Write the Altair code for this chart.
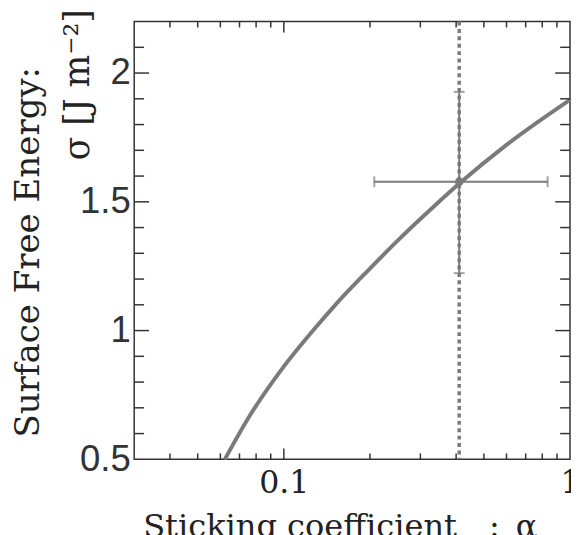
import altair as alt
import pandas as pd

# ---- data ----
curve_alpha = [0.0622, 0.0759, 0.099, 0.1289, 0.1511, 0.1968, 0.2566, 0.3343, 0.4076, 0.5983, 1.0]
curve_sigma = [0.5, 0.668, 0.854, 1.011, 1.099, 1.233, 1.362, 1.482, 1.568, 1.72, 1.896]

point_alpha = [0.41]
point_sigma = [1.578]
alpha_err = [0.207, 0.835]
sigma_err = [1.223, 1.927]

x_labels = [0.1, 1]
y_labels = [0.5, 1, 1.5, 2]
x_major = [0.1]
x_minor = [0.04, 0.05, 0.06, 0.07, 0.08, 0.09, 0.2, 0.3, 0.4, 0.5, 0.6, 0.7, 0.8, 0.9]
y_major = [1.0, 1.5, 2.0]
y_minor = [0.6, 0.7, 0.8, 0.9, 1.1, 1.2, 1.3, 1.4, 1.6, 1.7, 1.8, 1.9, 2.1]

x_title = "Sticking coefficient\u2003:\u2002α"
y_title_1 = "Surface Free Energy:"
y_title_2 = "σ [J m⁻²]"

# ---- chart ----
W, H = 442, 444
GRAY = "#7a7a7a"
AX = "#333333"
SERIF = "DejaVu Serif"

xs = alt.Scale(type="log", domain=[0.03, 1], nice=False)
ys = alt.Scale(domain=[0.5, 2.2], nice=False)

curve_df = pd.DataFrame({"x": curve_alpha, "y": curve_sigma})
pt_df = pd.DataFrame({"x": point_alpha, "y": point_sigma,
                      "xlo": [alpha_err[0]], "xhi": [alpha_err[1]],
                      "ylo": [sigma_err[0]], "yhi": [sigma_err[1]]})

x_axis = alt.Axis(values=x_labels, format="~g", ticks=False, domain=False, grid=False,
                  labelFont=SERIF, labelFontSize=32, labelPadding=9, labelColor="#222",
                  labelFlush=False, labelOverlap=False,
                  title=x_title, titleFont=SERIF, titleFontSize=32.5, titleFontWeight="normal",
                  titleColor="#222", titleX=208.5, titleY=78.5, titleAlign="center",
                  titleBaseline="alphabetic")
y_axis = alt.Axis(values=y_labels, format="~g", ticks=False, domain=False, grid=False,
                  labelFont="Liberation Sans", labelFontSize=37, labelPadding=4,
                  labelColor="#333", labelFlush=False, labelOverlap=False,
                  title=y_title_1, titleFont=SERIF, titleFontSize=34.5, titleFontWeight="normal",
                  titleColor="#222", titleAngle=270, titleX=-97, titleY=233.5,
                  titleAlign="center", titleBaseline="alphabetic")


def X(field):
    return alt.X(field, scale=xs, axis=x_axis)


def Y(field):
    return alt.Y(field, scale=ys, axis=y_axis)


curve = alt.Chart(curve_df).mark_line(color=GRAY, strokeWidth=4, interpolate="monotone").encode(
    x=X("x:Q"), y=Y("y:Q"))

dotted = alt.Chart(pt_df).mark_rule(color=GRAY, strokeWidth=3.5, strokeDash=[4, 3.5]).encode(
    x=X("x:Q"))

xbar = alt.Chart(pt_df).mark_rule(color=GRAY, strokeWidth=2).encode(
    x=X("xlo:Q"), x2="xhi:Q", y=Y("y:Q"))
ybar = alt.Chart(pt_df).mark_rule(color=GRAY, strokeWidth=2).encode(
    x=X("x:Q"), y=Y("ylo:Q"), y2="yhi:Q")

cap_x_df = pd.DataFrame({"x": alpha_err, "y": point_sigma * 2})
cap_y_df = pd.DataFrame({"x": point_alpha * 2, "y": sigma_err})
cap_x = alt.Chart(cap_x_df).mark_tick(orient="vertical", color=GRAY, size=11, thickness=2).encode(
    x=X("x:Q"), y=Y("y:Q"))
cap_y = alt.Chart(cap_y_df).mark_tick(orient="horizontal", color=GRAY, size=11, thickness=2).encode(
    x=X("x:Q"), y=Y("y:Q"))

marker = alt.Chart(pt_df).mark_point(filled=True, color=GRAY, size=75, opacity=1).encode(
    x=X("x:Q"), y=Y("y:Q"))


# inward axis ticks (frame on all four sides)
def xticks(vals, length):
    d = pd.DataFrame({"x": vals})
    bot = alt.Chart(d).mark_rule(color=AX, strokeWidth=1.5).encode(
        x=X("x:Q"), y=alt.value(H), y2=alt.value(H - length))
    top = alt.Chart(d).mark_rule(color=AX, strokeWidth=1.5).encode(
        x=X("x:Q"), y=alt.value(0), y2=alt.value(length))
    return [bot, top]


def yticks(vals, length):
    d = pd.DataFrame({"y": vals})
    left = alt.Chart(d).mark_rule(color=AX, strokeWidth=1.5).encode(
        y=Y("y:Q"), x=alt.value(0), x2=alt.value(length))
    right = alt.Chart(d).mark_rule(color=AX, strokeWidth=1.5).encode(
        y=Y("y:Q"), x=alt.value(W), x2=alt.value(W - length))
    return [left, right]


ticks = xticks(x_major, 11) + xticks(x_minor, 6) + yticks(y_major, 15) + yticks(y_minor, 10)

title2 = alt.Chart(pd.DataFrame({"t": [y_title_2]})).mark_text(
    angle=270, font=SERIF, fontSize=35, align="center", baseline="alphabetic", color="#222"
).encode(x=alt.value(-46), y=alt.value(64), text="t:N")

chart = alt.layer(curve, *ticks, xbar, ybar, cap_x, cap_y, dotted, marker, title2).properties(
    width=W, height=H,
    autosize=alt.AutoSizeParams(type="none"),
    padding={"left": 128, "top": 10, "right": 1, "bottom": 73},
).configure_view(stroke=AX, strokeWidth=1.5)

chart.save("out.html", embed_options={"renderer": "svg", "actions": False})
